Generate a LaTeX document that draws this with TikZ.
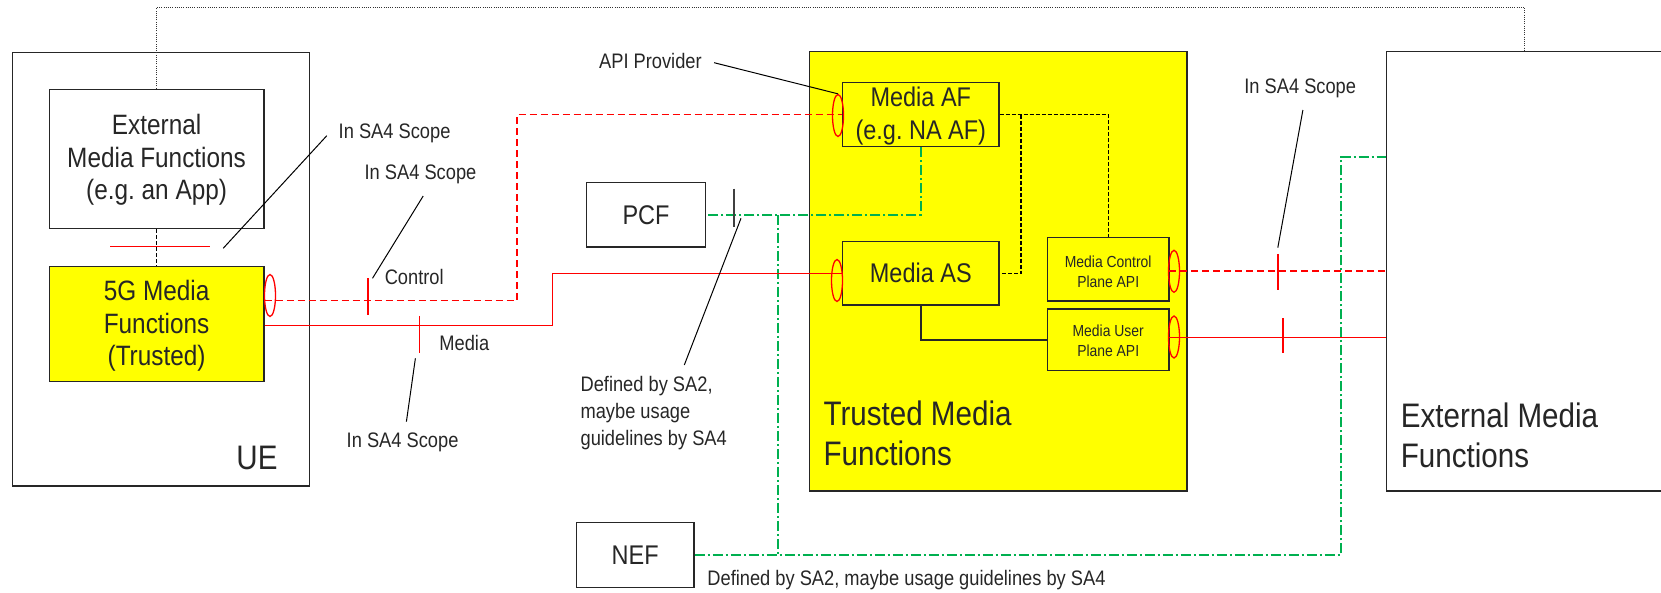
\documentclass[tikz,border=0pt]{standalone}
\usepackage{fontspec}
\setmainfont{Liberation Sans}[FakeStretch=0.87]
\usetikzlibrary{fit,shapes.geometric}
\definecolor{bordercol}{HTML}{262626}
\definecolor{yel}{HTML}{FFFF00}
\definecolor{grn}{HTML}{00B050}
\newcommand{\fsbig}{\fontsize{17}{20}\selectfont}
\newcommand{\fsmed}{\fontsize{14}{16.3}\selectfont}
\newcommand{\fsaf}{\fontsize{13.5}{16.7}\selectfont}
\newcommand{\fssmall}{\fontsize{10.5}{13.5}\selectfont}
\newcommand{\fstiny}{\fontsize{8}{10}\selectfont}
\frenchspacing
\begin{document}
\begin{tikzpicture}[x=0.5pt,y=-0.5pt,
  box/.style={draw=bordercol, line width=0.7pt, inner sep=0pt},
  ybox/.style={box, fill=yel},
  txt/.style={inner sep=0pt, align=center, text=bordercol},
  redell/.style={draw=red, line width=0.65pt, ellipse, minimum width=5.5pt, minimum height=21pt, inner sep=0pt},
  lbl/.style={font=\fssmall, inner sep=0pt, text=bordercol},
  lead/.style={draw=black, line width=0.5pt},
  rsolid/.style={draw=red, line width=0.7pt},
  rdash/.style={draw=red, line width=0.7pt, dash pattern=on 3.5pt off 2pt},
  bdash/.style={draw=black, line width=0.6pt, dash pattern=on 2pt off 1pt},
  dotl/.style={draw=black!80, line width=0.5pt, dash pattern=on 0.5pt off 0.6pt},
  gdd/.style={draw=grn, line width=0.7pt, dash pattern=on 5pt off 1.5pt on 1pt off 1.5pt},
  tick/.style={draw=red, line width=0.7pt}
]
\useasboundingbox (0,0) rectangle (1661,593);

% boxes
\node[box, line width=0.8pt, fit={(12.5,52.7) (309.3,485.7)}] (UE) {};
\node[box, fit={(49.3,89.3) (263.9,228.7)}] (app) {};
\node[ybox, fit={(49.3,266.7) (263.9,381.7)}] (g5) {};
\node[ybox, fit={(809.2,51.7) (1186.8,491)}] (TMF) {};
\node[ybox, fit={(842.7,82.5) (999,146.7)}] (AF) {};
\node[ybox, fit={(842.7,241.5) (999,305)}] (AS) {};
\node[ybox, fit={(1047.3,237.7) (1169,301)}] (CP) {};
\node[ybox, fit={(1047.3,309) (1169,370.7)}] (UP) {};
\node[box, fit={(586.5,182.7) (705.5,247)}] (PCF) {};
\node[box, fit={(576.7,522.3) (693.8,587.7)}] (NEF) {};
\node[box, fit={(1386.2,51.7) (1690,491)}] (EXT) {};

% box texts
\node[txt, font=\fsmed] (apptxt) at (156.6,160) {External\\Media Functions\\(e.g. an App)};
\node[txt, font=\fsmed] (g5txt) at (156.6,326) {5G Media\\Functions\\(Trusted)};
\node[txt, font=\fsaf] (AFtxt) at (920.8,116) {Media AF\\(e.g. NA AF)};
\node[txt, font=\fsaf] (AStxt) at (920.8,272.5) {Media AS};
\node[txt, font=\fstiny] (CPtxt) at (1108.2,271.5) {Media Control\\Plane API};
\node[txt, font=\fstiny] (UPtxt) at (1108.2,340.5) {Media User\\Plane API};
\node[txt, font=\fsaf] (PCFtxt) at (646,215) {PCF};
\node[txt, font=\fsaf] (NEFtxt) at (635.2,555) {NEF};

% big labels
\node[txt, font=\fsbig] (uelab) at (257,458.3) {UE};
\node[txt, font=\fsbig, align=left, anchor=west] (tmflab) at (823.2,433.3) {Trusted Media\\Functions};
\node[txt, font=\fsbig, align=left, anchor=west] (extlab) at (1400.5,435.8) {External Media\\Functions};

% small labels
\node[lbl] (s1) at (394.6,133.3) {In SA4 Scope};
\node[lbl] (s2) at (420.5,174) {In SA4 Scope};
\node[lbl] (ctl) at (414.2,277.3) {Control};
\node[lbl] (med) at (464.3,343.3) {Media};
\node[lbl] (s3) at (402.6,442.7) {In SA4 Scope};
\node[lbl] (s4) at (1300.2,88.3) {In SA4 Scope};
\node[lbl] (api) at (650.4,60.7) {API Provider};
\node[lbl, align=left, anchor=west] (def1) at (580.2,412.7) {Defined by SA2,\\maybe usage\\guidelines by SA4};
\node[lbl, anchor=west] (def2) at (707,580) {Defined by SA2, maybe usage guidelines by SA4};

% top dotted link
\coordinate (top) at (1524.7,7.5);
\draw[dotl] (app.north) -- (app.north |- top) -- (top) -- (top |- EXT.north);
\draw[bdash] (app.south) -- (g5.north);

% black dashed AF connections
\coordinate (bj) at (1021,115);
\draw[bdash] (AF.east) -- (CP.north |- AF.east) -- (CP.north);
\draw[bdash] (bj |- AF.east) -- (bj |- AS.east) -- (AS.east);
\draw[line width=0.7pt, bordercol] (AS.south) -- (AS.south |- UP.west) -- (UP.west);

% green dash-dot
\coordinate (gj) at (778,215);
\coordinate (g3) at (1340.8,157);
\draw[gdd] (AF.south) -- (AF.south |- PCF.east) -- (PCF.east);
\draw[gdd] (gj |- PCF.east) -- (gj |- NEF.east);
\draw[gdd] (NEF.east) -- (g3 |- NEF.east) -- (g3) -- (g3 -| EXT.west);

% red connections
\coordinate (rc1) at (516.8,300.7);
\coordinate (rm1) at (552.7,325.7);
\coordinate (ru) at (1169,337.3);
\coordinate (rcp) at (1169,271);
\draw[rdash] (rc1 -| g5.east) -- (rc1) -- (rc1 |- AF.west) -- (AF.west);
\draw[rsolid] (rm1 -| g5.east) -- (rm1) -- (rm1 |- AS.west) -- (AS.west);
\draw[rdash] (rcp) -- (rcp -| EXT.west);
\draw[rsolid] (ru) -- (ru -| EXT.west);

% red ellipses
\node[redell] (e5) at (270,295.5) {};
\node[redell] (eAF) at (838,115.5) {};
\node[redell] (eAS) at (837,280.5) {};
\node[redell] (eCP) at (1174,271.3) {};
\node[redell] (eUP) at (1174,337) {};

% red ticks
\coordinate (ta1) at (110,246.7); \coordinate (ta2) at (209.6,246.7);
\coordinate (tb1) at (367.9,278.3); \coordinate (tb2) at (367.9,315);
\coordinate (tc1) at (419.6,316); \coordinate (tc2) at (419.6,353.3);
\coordinate (td1) at (1277.8,254); \coordinate (td2) at (1277.8,290);
\coordinate (te1) at (1282.8,318.3); \coordinate (te2) at (1282.8,353.3);
\draw[tick] (ta1) -- (ta2);
\draw[tick] (tb1) -- (tb2);
\draw[tick] (tc1) -- (tc2);
\draw[tick] (td1) -- (td2);
\draw[tick] (te1) -- (te2);
\coordinate (pt1) at (734,188.7); \coordinate (pt2) at (734,226.7);
\draw[draw=black!75, line width=0.8pt] (pt1) -- (pt2);

% leaders
\coordinate (l1a) at (223.2,248.3); \coordinate (l1b) at (326.8,135.7);
\coordinate (l2a) at (423.2,196); \coordinate (l2b) at (372.5,278.3);
\coordinate (l3a) at (415.4,358.3); \coordinate (l3b) at (406.4,421.7);
\coordinate (l4a) at (1302.9,110); \coordinate (l4b) at (1277.8,247.7);
\coordinate (l5a) at (714.1,62.7);
\coordinate (l6a) at (741,218.3); \coordinate (l6b) at (684.3,365);
\draw[lead] (l1a) -- (l1b);
\draw[lead] (l2a) -- (l2b);
\draw[lead] (l3a) -- (l3b);
\draw[lead] (l4a) -- (l4b);
\draw[lead] (l5a) -- (eAF.north);
\draw[lead] (l6a) -- (l6b);
\end{tikzpicture}
\end{document}
